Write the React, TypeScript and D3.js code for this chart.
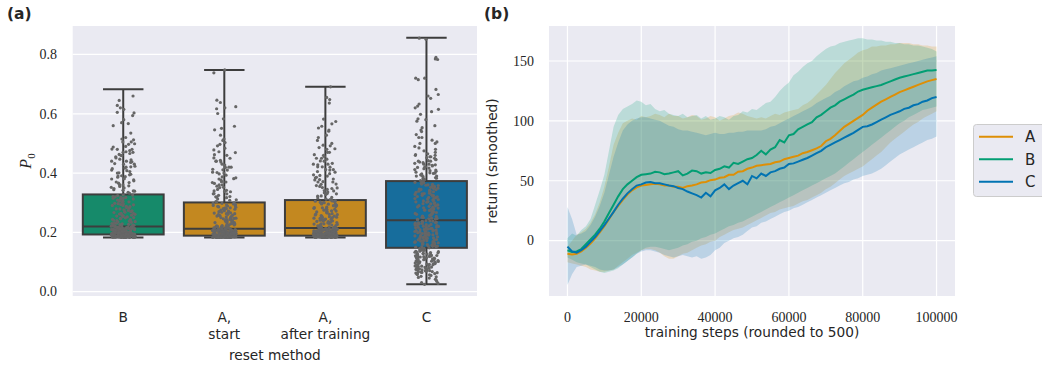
import * as d3 from "d3";

// ---------- panel (a): P0 by reset method ----------
const categories = ["B", "A_start", "A_after", "C"];
const tickLines = [["B"], ["A,", "start"], ["A,", "after training"], ["C"]];
const boxColors = ["#168a6a", "#c38820", "#c38820", "#176d9c"];

const boxMin = [0.183, 0.183, 0.183, 0.025];
const boxQ1 = [0.193, 0.189, 0.189, 0.148];
const boxMed = [0.22, 0.212, 0.215, 0.241];
const boxQ3 = [0.328, 0.301, 0.309, 0.373];
const boxMax = [0.683, 0.748, 0.691, 0.856];

const pointsB = [
  0.183, 0.184, 0.183, 0.185, 0.186, 0.184, 0.187, 0.188, 0.183, 0.189, 0.19, 0.185, 0.186, 0.191, 0.192, 0.184,
  0.187, 0.193, 0.188, 0.183, 0.19, 0.186, 0.189, 0.192, 0.185, 0.184, 0.191, 0.187, 0.183, 0.188, 0.19, 0.186,
  0.193, 0.185, 0.189, 0.184, 0.192, 0.187, 0.191, 0.183,
  0.194, 0.196, 0.199, 0.201, 0.203, 0.195, 0.198, 0.205, 0.207, 0.209, 0.211, 0.197, 0.2, 0.213, 0.215, 0.202,
  0.217, 0.204, 0.219, 0.206, 0.194, 0.208, 0.21, 0.212, 0.199, 0.214, 0.216, 0.196, 0.218, 0.203, 0.201, 0.22,
  0.197, 0.205, 0.211, 0.207, 0.215, 0.2, 0.209, 0.213,
  0.222, 0.228, 0.235, 0.241, 0.247, 0.253, 0.226, 0.259, 0.264, 0.27, 0.232, 0.276, 0.281, 0.287, 0.238, 0.293,
  0.298, 0.244, 0.304, 0.309, 0.25, 0.315, 0.32, 0.256, 0.326, 0.262, 0.268, 0.274, 0.224, 0.279, 0.285, 0.291,
  0.23, 0.296, 0.302, 0.307, 0.313, 0.318, 0.236, 0.324,
  0.332, 0.339, 0.344, 0.352, 0.357, 0.366, 0.37, 0.377, 0.386, 0.391, 0.396, 0.405, 0.41, 0.417, 0.421, 0.432,
  0.436, 0.445, 0.451, 0.459, 0.466, 0.476, 0.48, 0.488, 0.497, 0.505, 0.512, 0.52, 0.505, 0.47, 0.44, 0.56,
  0.567, 0.58, 0.594, 0.603, 0.615, 0.628, 0.645, 0.66,
  0.1835, 0.1845, 0.1855, 0.1865, 0.1875, 0.1885, 0.1895, 0.1905, 0.1915, 0.1925, 0.195, 0.197, 0.199, 0.201,
  0.203, 0.205, 0.207, 0.209, 0.211, 0.213, 0.215, 0.217, 0.219, 0.221, 0.223, 0.225, 0.227, 0.229, 0.184, 0.186,
  0.188, 0.19, 0.192, 0.194, 0.196, 0.198, 0.2, 0.202, 0.204, 0.206, 0.208, 0.21, 0.212, 0.214, 0.216, 0.218,
  0.22, 0.185, 0.187, 0.189,
  0.231, 0.237, 0.243, 0.249, 0.255, 0.261, 0.267, 0.273, 0.279, 0.285, 0.291, 0.297, 0.303, 0.309, 0.315, 0.321,
  0.327, 0.234, 0.246, 0.258, 0.27, 0.282, 0.294, 0.306, 0.318, 0.24, 0.264, 0.288, 0.312, 0.252,
  0.335, 0.342, 0.348, 0.355, 0.361, 0.368, 0.374, 0.381, 0.388, 0.394, 0.401, 0.408, 0.415, 0.423, 0.43, 0.438,
  0.447, 0.455, 0.463, 0.472, 0.481, 0.49, 0.499, 0.34, 0.36, 0.38, 0.4, 0.42, 0.44, 0.46, 0.48, 0.35, 0.39, 0.43,
  0.47, 0.515, 0.535, 0.57, 0.605, 0.62,
];

const pointsAStart = [
  0.183, 0.184, 0.185, 0.183, 0.186, 0.187, 0.184, 0.188, 0.185, 0.183, 0.186, 0.189, 0.184, 0.187, 0.185, 0.188,
  0.183, 0.186, 0.184, 0.187, 0.189, 0.185, 0.183, 0.188, 0.186, 0.184, 0.187, 0.185, 0.183, 0.189, 0.186, 0.184,
  0.188, 0.185, 0.187, 0.183, 0.186, 0.184, 0.188, 0.185,
  0.19, 0.192, 0.194, 0.196, 0.198, 0.2, 0.191, 0.202, 0.204, 0.193, 0.206, 0.208, 0.195, 0.21, 0.197, 0.199,
  0.211, 0.201, 0.203, 0.205, 0.19, 0.207, 0.209, 0.192, 0.194, 0.212, 0.196, 0.198, 0.2, 0.202, 0.191, 0.204,
  0.206, 0.193, 0.208, 0.21, 0.195, 0.197, 0.199, 0.201,
  0.214, 0.219, 0.224, 0.229, 0.235, 0.241, 0.217, 0.246, 0.252, 0.222, 0.258, 0.263, 0.227, 0.269, 0.232, 0.275,
  0.238, 0.28, 0.286, 0.244, 0.291, 0.25, 0.296, 0.255, 0.3, 0.261, 0.266, 0.215, 0.272, 0.278, 0.221, 0.283,
  0.289, 0.226, 0.294, 0.233, 0.298, 0.239, 0.247, 0.257,
  0.304, 0.31, 0.317, 0.321, 0.33, 0.337, 0.342, 0.351, 0.356, 0.365, 0.371, 0.381, 0.387, 0.397, 0.403, 0.413,
  0.419, 0.427, 0.437, 0.443, 0.451, 0.462, 0.469, 0.478, 0.492, 0.503, 0.515, 0.528, 0.546, 0.551, 0.558, 0.583,
  0.601, 0.617, 0.624, 0.638, 0.646, 0.62, 0.738, 0.748,
  0.1832, 0.1838, 0.1845, 0.1852, 0.1858, 0.1865, 0.1872, 0.1878, 0.1885, 0.1892, 0.1898, 0.191, 0.193, 0.195,
  0.197, 0.199, 0.201, 0.203, 0.205, 0.207, 0.209, 0.211, 0.213, 0.215, 0.184, 0.186, 0.188, 0.19, 0.192, 0.194,
  0.196, 0.198, 0.2, 0.202, 0.204, 0.206, 0.208, 0.21, 0.212, 0.183, 0.185, 0.187, 0.189, 0.191, 0.193, 0.195,
  0.197, 0.199, 0.201, 0.203, 0.205, 0.207, 0.209, 0.211, 0.213,
  0.218, 0.223, 0.228, 0.233, 0.238, 0.243, 0.248, 0.253, 0.258, 0.263, 0.268, 0.273, 0.278, 0.283, 0.288, 0.293,
  0.298, 0.22, 0.23, 0.24, 0.25, 0.26, 0.27, 0.28, 0.29, 0.225, 0.245, 0.265, 0.285, 0.235,
  0.303, 0.308, 0.313, 0.319, 0.325, 0.331, 0.338, 0.345, 0.352, 0.36, 0.368, 0.376, 0.384, 0.393, 0.402, 0.411,
  0.42, 0.43, 0.44, 0.45, 0.46, 0.472, 0.484, 0.497, 0.51, 0.32, 0.34, 0.36, 0.38, 0.4, 0.42, 0.44, 0.33, 0.37,
  0.41,
];

const pointsAAfter = [
  0.184, 0.183, 0.186, 0.185, 0.183, 0.187, 0.188, 0.184, 0.186, 0.183, 0.185, 0.189, 0.187, 0.184, 0.188, 0.186,
  0.183, 0.185, 0.187, 0.184, 0.189, 0.186, 0.183, 0.188, 0.185, 0.184, 0.187, 0.183, 0.186, 0.189, 0.185, 0.188,
  0.184, 0.187, 0.183, 0.186, 0.185, 0.188, 0.184, 0.187,
  0.19, 0.193, 0.195, 0.197, 0.199, 0.201, 0.191, 0.203, 0.205, 0.194, 0.207, 0.209, 0.196, 0.211, 0.198, 0.2,
  0.213, 0.202, 0.204, 0.206, 0.191, 0.208, 0.21, 0.192, 0.195, 0.214, 0.197, 0.199, 0.201, 0.203, 0.19, 0.205,
  0.207, 0.194, 0.209, 0.212, 0.196, 0.198, 0.2, 0.215,
  0.217, 0.222, 0.228, 0.233, 0.239, 0.245, 0.219, 0.251, 0.257, 0.225, 0.263, 0.269, 0.23, 0.275, 0.236, 0.281,
  0.242, 0.287, 0.293, 0.248, 0.298, 0.254, 0.303, 0.26, 0.307, 0.266, 0.272, 0.218, 0.278, 0.284, 0.224, 0.29,
  0.296, 0.229, 0.301, 0.237, 0.305, 0.243, 0.25, 0.261,
  0.312, 0.318, 0.323, 0.331, 0.336, 0.345, 0.351, 0.358, 0.362, 0.371, 0.377, 0.384, 0.392, 0.398, 0.405, 0.412,
  0.421, 0.428, 0.433, 0.441, 0.447, 0.456, 0.462, 0.47, 0.48, 0.486, 0.492, 0.5, 0.51, 0.528, 0.541, 0.552,
  0.558, 0.566, 0.574, 0.582, 0.636, 0.648, 0.655, 0.691,
  0.1834, 0.1841, 0.1847, 0.1853, 0.1861, 0.1867, 0.1874, 0.1881, 0.1887, 0.1893, 0.1899, 0.192, 0.194, 0.196,
  0.198, 0.2, 0.202, 0.204, 0.206, 0.208, 0.21, 0.212, 0.214, 0.185, 0.187, 0.189, 0.191, 0.193, 0.195, 0.197,
  0.199, 0.201, 0.203, 0.205, 0.207, 0.209, 0.211, 0.213, 0.215, 0.184, 0.186, 0.188, 0.19, 0.192, 0.194, 0.196,
  0.198, 0.2, 0.202, 0.204, 0.206, 0.208, 0.21, 0.212, 0.183,
  0.216, 0.221, 0.227, 0.232, 0.238, 0.244, 0.25, 0.255, 0.261, 0.267, 0.273, 0.279, 0.285, 0.291, 0.296, 0.302,
  0.308, 0.223, 0.235, 0.247, 0.259, 0.271, 0.283, 0.295, 0.306, 0.229, 0.253, 0.277, 0.3, 0.241,
  0.311, 0.316, 0.322, 0.328, 0.334, 0.341, 0.348, 0.355, 0.363, 0.37, 0.378, 0.386, 0.394, 0.403, 0.412, 0.421,
  0.43, 0.44, 0.45, 0.46, 0.47, 0.482, 0.494, 0.52, 0.545, 0.33, 0.35, 0.37, 0.39, 0.41, 0.43, 0.45, 0.34, 0.38,
  0.42,
];

const pointsC = [
  0.025, 0.031, 0.04, 0.046, 0.05, 0.055, 0.058, 0.061, 0.063, 0.066, 0.068, 0.071, 0.072, 0.075, 0.077, 0.08,
  0.082, 0.085, 0.087, 0.09, 0.092, 0.094, 0.096, 0.098, 0.1, 0.102, 0.104, 0.106, 0.108, 0.11, 0.112, 0.114,
  0.116, 0.118, 0.12, 0.122, 0.124, 0.126, 0.128, 0.13, 0.132, 0.134, 0.136, 0.138, 0.14, 0.142, 0.144, 0.146,
  0.148, 0.065, 0.073, 0.079, 0.088, 0.095, 0.103, 0.111, 0.119, 0.127, 0.135, 0.143,
  0.15, 0.152, 0.154, 0.156, 0.158, 0.16, 0.162, 0.164, 0.166, 0.168, 0.17, 0.172, 0.174, 0.176, 0.178, 0.18,
  0.182, 0.184, 0.186, 0.188, 0.19, 0.192, 0.194, 0.196, 0.198, 0.2, 0.202, 0.204, 0.206, 0.208, 0.21, 0.212,
  0.214, 0.216, 0.218, 0.22, 0.222, 0.224, 0.226, 0.228, 0.23, 0.232, 0.234, 0.236, 0.238, 0.24, 0.155, 0.163,
  0.171, 0.179, 0.187, 0.195, 0.203, 0.211, 0.219, 0.227,
  0.243, 0.246, 0.25, 0.253, 0.257, 0.26, 0.264, 0.267, 0.271, 0.274, 0.278, 0.281, 0.285, 0.288, 0.292, 0.295,
  0.299, 0.302, 0.306, 0.309, 0.313, 0.316, 0.32, 0.323, 0.327, 0.33, 0.334, 0.337, 0.341, 0.344, 0.348, 0.351,
  0.355, 0.358, 0.362, 0.365, 0.369, 0.372, 0.248, 0.255, 0.262, 0.269, 0.276, 0.283, 0.29, 0.297, 0.304, 0.311,
  0.318, 0.325, 0.332, 0.339, 0.346, 0.353, 0.36, 0.367, 0.371, 0.245,
  0.376, 0.381, 0.385, 0.39, 0.394, 0.399, 0.403, 0.408, 0.412, 0.417, 0.421, 0.426, 0.43, 0.435, 0.44, 0.445,
  0.45, 0.455, 0.46, 0.378, 0.388, 0.397, 0.406, 0.415, 0.424, 0.433, 0.442, 0.452, 0.462, 0.47, 0.48, 0.49,
  0.5, 0.505, 0.511, 0.52, 0.53, 0.545, 0.553, 0.56, 0.575, 0.583, 0.598, 0.607, 0.615, 0.626, 0.633, 0.652,
  0.665, 0.682, 0.715, 0.72, 0.783, 0.79, 0.855, 0.851,
  0.028, 0.035, 0.042, 0.048, 0.052, 0.057, 0.06, 0.062, 0.064, 0.067, 0.069, 0.071, 0.074, 0.076, 0.078, 0.081,
  0.083, 0.086, 0.089, 0.091, 0.093, 0.097, 0.099, 0.101, 0.105, 0.107, 0.109, 0.113, 0.115, 0.117, 0.121, 0.123,
  0.125, 0.129, 0.131, 0.133, 0.137, 0.139, 0.141, 0.145,
  0.151, 0.153, 0.157, 0.159, 0.161, 0.165, 0.167, 0.169, 0.173, 0.175, 0.177, 0.181, 0.183, 0.185, 0.189, 0.191,
  0.193, 0.197, 0.199, 0.201, 0.205, 0.207, 0.209, 0.213, 0.215, 0.217, 0.221, 0.223, 0.225, 0.229, 0.231, 0.233,
  0.237, 0.239,
  0.244, 0.247, 0.251, 0.254, 0.258, 0.261, 0.265, 0.268, 0.272, 0.275, 0.279, 0.282, 0.286, 0.289, 0.293, 0.296,
  0.3, 0.303, 0.307, 0.31, 0.314, 0.317, 0.321, 0.324, 0.328, 0.331, 0.335, 0.338, 0.342, 0.345, 0.349, 0.352,
  0.356, 0.359, 0.363, 0.366,
  0.375, 0.383, 0.392, 0.401, 0.41, 0.419, 0.428, 0.437, 0.446, 0.455, 0.465, 0.475, 0.485, 0.38, 0.4, 0.42, 0.44,
  0.46, 0.39, 0.43, 0.5, 0.52, 0.54, 0.58, 0.62, 0.66, 0.72, 0.785,
];
const stripPoints = [pointsB, pointsAStart, pointsAAfter, pointsC];
const yTicksA = [0, 0.2, 0.4, 0.6, 0.8];

// ---------- panel (b): return curves ----------
const steps = [
  0, 1250, 2500, 3750, 5000, 6250, 7500, 8750, 10000, 11250, 12500, 13750, 15000, 16250, 17500, 18750, 20000,
  21250, 22500, 23750, 25000, 26250, 27500, 28750, 30000, 31250, 32500, 33750, 35000, 36250, 37500, 38750, 40000,
  41250, 42500, 43750, 45000, 46250, 47500, 48750, 50000, 51250, 52500, 53750, 55000, 56250, 57500, 58750, 60000,
  61250, 62500, 63750, 65000, 66250, 67500, 68750, 70000, 71250, 72500, 73750, 75000, 76250, 77500, 78750, 80000,
  81250, 82500, 83750, 85000, 86250, 87500, 88750, 90000, 91250, 92500, 93750, 95000, 96250, 97500, 98750, 100000,
];
const meanA = [
  -11, -11.5, -11, -9, -6, -2.5, 2, 7, 12, 18, 24, 29, 34, 38.5, 42, 44.5, 46, 46.5, 47, 47.5, 47, 46, 46, 45, 45,
  44, 45.5, 46, 47, 48.5, 49, 50.5, 51, 52.5, 53, 55, 55, 57.5, 58, 60, 61, 62.5, 63, 63.5, 64, 65.5, 66, 68, 69,
  70, 71, 73, 74, 75.5, 77, 79, 83, 85, 88, 91.5, 95, 97.5, 100, 102.5, 105, 108.5, 111, 113.5, 116, 118, 120, 122,
  124, 125.5, 127, 128.5, 130, 131.5, 133, 134, 135,
];
const meanB = [
  -8, -9.5, -9, -7, -3, 1, 5, 10, 16, 23, 30, 37, 43, 47, 50, 53, 55, 55.5, 56, 57.5, 57, 55.5, 56, 57, 58, 54.5,
  56, 58.5, 58, 56, 57, 56.5, 59, 60, 62, 61, 65, 64, 66, 68, 69, 71.5, 75, 72, 76, 78, 84, 82, 88, 89, 93, 95, 97,
  99, 103, 105, 108, 111, 113, 116, 118, 120, 122, 124.5, 126, 127, 128, 129, 130, 131.5, 133, 134.5, 136, 137, 138,
  139, 140, 141, 142, 142, 142.5,
];
const meanC = [
  -5, -9, -10, -8, -5, -1, 3, 8, 13, 18.5, 24, 30, 35, 39.5, 43, 46, 47, 48.5, 49, 48, 48, 47, 46, 45.5, 44, 43, 41,
  39.5, 38, 36, 40, 37, 42, 44, 47, 43, 46, 48, 50, 47, 54, 52, 56, 54, 57, 58, 60, 61, 64, 64.5, 66, 67.5, 69, 71,
  73, 75, 78, 80, 82, 84, 86, 88, 90, 92.5, 95, 95.5, 97, 99, 101, 103, 105, 106.5, 108, 110, 111, 113, 114, 116,
  117, 119, 120,
];
const upperA = [
  -5, 0, 5, 7, 10, 15, 22, 32, 45, 62, 80, 90, 98, 100, 102, 101, 104, 103, 104, 106, 105, 103, 106, 104, 104, 102,
  103, 105, 104, 101, 102, 104, 103, 100, 102, 104, 105, 107, 106, 104, 103, 102, 103, 102, 104, 106, 105, 107, 108,
  109, 110, 113, 115, 118, 122, 126, 130, 135, 140, 144, 148, 151, 154, 157, 159, 160, 162, 162, 163, 163, 164, 164,
  165, 165, 165, 164, 164, 163, 163, 162, 162,
];
const lowerA = [
  -18, -19, -20, -21, -22, -24, -25, -26, -26, -25, -24, -21, -18, -15, -12, -10, -8, -7, -7, -8, -10, -13, -15,
  -15, -13, -11, -10, -8, -6, -4, -3, -1, 0, 3, 5, 7, 9, 10, 11, 13, 15, 17, 19, 21, 23, 24, 26, 27, 28, 29, 31,
  33, 34, 36, 38, 40, 43, 45, 48, 51, 54, 56, 58, 60, 62, 65, 68, 71, 74, 78, 82, 85, 88, 91, 94, 97, 99, 102, 104,
  106, 108,
];
const upperB = [
  2, 6, 4, 9, 12, 18, 30, 42, 55, 75, 95, 105, 110, 112, 114, 117, 116, 113, 114, 110, 108, 109, 106, 105, 104, 106,
  103, 104, 105, 102, 104, 101, 102, 104, 103, 101, 104, 105, 108, 107, 110, 109, 112, 115, 116, 120, 125, 129, 132,
  138, 141, 145, 148, 150, 154, 157, 160, 162, 163, 165, 166, 167, 168, 169, 169, 168, 168, 167, 167, 166, 166, 165,
  165, 164, 164, 163, 163, 162, 161, 160, 158,
];
const lowerB = [
  -14, -16, -18, -19, -20, -22, -24, -26, -27, -26, -25, -23, -20, -17, -14, -11, -8, -6, -5, -5, -6, -7, -8, -7,
  -6, -4, -3, -1, 0, 2, 3, 5, 6, 8, 10, 12, 13, 15, 16, 18, 20, 22, 24, 26, 28, 30, 32, 34, 36, 38, 40, 42, 44, 46,
  48, 50, 52, 54, 56, 59, 62, 65, 68, 71, 74, 77, 80, 83, 86, 89, 92, 95, 98, 100, 103, 105, 107, 109, 110, 111, 112,
];
const upperC = [
  28, 18, 5, 6, 8, 13, 20, 29, 40, 55, 70, 82, 92, 97, 100, 102, 103, 103, 102, 101, 100, 98, 96, 95, 93, 92, 92, 91,
  90, 89, 88, 89, 90, 89, 89, 90, 90, 91, 91, 92, 92, 92, 92, 93, 95, 96, 98, 100, 102, 104, 106, 108, 110, 112,
  115, 117, 119, 121, 124, 126, 129, 131, 133, 134, 136, 137, 139, 140, 142, 143, 144, 145, 146, 147, 148, 149, 150,
  151, 152, 153, 154,
];
const lowerC = [
  -37, -28, -22, -21, -20, -21, -22, -24, -25, -25, -24, -22, -20, -17, -14, -11, -9, -8, -8, -9, -10, -12, -13,
  -14, -13, -12, -13, -14, -13, -15, -14, -12, -8, -6, -2, 0, 2, 3, 5, 8, 11, 12, 15, 16, 18, 20, 22, 24, 25, 27,
  28, 30, 32, 34, 36, 38, 40, 42, 44, 46, 48, 49, 51, 52, 54, 55, 56, 58, 60, 63, 66, 69, 72, 74, 76, 78, 80, 82,
  84, 85, 87,
];
const seriesNames = ["A", "B", "C"];
const seriesColors = ["#de8f05", "#029e73", "#0173b2"];
const seriesMean = [meanA, meanB, meanC];
const seriesUpper = [upperA, upperB, upperC];
const seriesLower = [lowerA, lowerB, lowerC];
const xTicksB = [0, 20000, 40000, 60000, 80000, 100000];
const yTicksB = [0, 50, 100, 150];

const BG = "#eaeaf2";
const INK = "#262626";
const SERIF = "'Liberation Serif', 'DejaVu Serif', serif";
const SANS = "'DejaVu Sans', sans-serif";
const FS = 13.7;

const A = { left: 72.7, right: 477, top: 26, bottom: 296 };
const B = { left: 549, right: 955, top: 26, bottom: 296 };

// layout-only jitter, stable across renders
function jitter(i: number, j: number) {
  const s = Math.sin((j + 1) * 12.9898 + i * 78.233) * 43758.5453;
  return s - Math.floor(s) - 0.5;
}

function PanelA() {
  const x = d3.scaleBand<string>().domain(categories).range([A.left, A.right]).padding(0);
  const y = d3.scaleLinear().domain([-0.0145, 0.896]).range([A.bottom, A.top]);
  const bw = x.bandwidth();
  const boxW = bw * 0.8;
  const edge = "#3d3d3d";

  return (
    <g>
      <rect x={A.left} y={A.top} width={A.right - A.left} height={A.bottom - A.top} fill={BG} />
      {yTicksA.map((t) => (
        <g key={t}>
          <line x1={A.left} x2={A.right} y1={y(t)} y2={y(t)} stroke="#fff" strokeWidth={1.2} />
          <text x={57} y={y(t)} dy="0.34em" textAnchor="end" fontFamily={SERIF} fontSize={14} fill={INK}>
            {t.toFixed(1)}
          </text>
        </g>
      ))}
      {categories.map((c, i) => {
        const cx = x(c)! + bw / 2;
        return (
          <g key={c}>
            <line x1={cx} x2={cx} y1={y(boxQ3[i])} y2={y(boxMax[i])} stroke={edge} strokeWidth={2} />
            <line x1={cx} x2={cx} y1={y(boxQ1[i])} y2={y(boxMin[i])} stroke={edge} strokeWidth={2} />
            <line x1={cx - boxW / 4} x2={cx + boxW / 4} y1={y(boxMax[i])} y2={y(boxMax[i])} stroke={edge} strokeWidth={2} />
            <line x1={cx - boxW / 4} x2={cx + boxW / 4} y1={y(boxMin[i])} y2={y(boxMin[i])} stroke={edge} strokeWidth={2} />
            <rect
              x={cx - boxW / 2}
              y={y(boxQ3[i])}
              width={boxW}
              height={y(boxQ1[i]) - y(boxQ3[i])}
              fill={boxColors[i]}
              stroke={edge}
              strokeWidth={2}
            />
            <line x1={cx - boxW / 2} x2={cx + boxW / 2} y1={y(boxMed[i])} y2={y(boxMed[i])} stroke={edge} strokeWidth={2} />
            {stripPoints[i].map((v, j) => (
              <circle key={j} cx={cx + jitter(i, j) * 24} cy={y(v)} r={1.6} fill="#666666" />
            ))}
            {tickLines[i].map((ln, k) => (
              <text key={k} x={cx} y={321.5 + k * 17.5} textAnchor="middle" fontFamily={SANS} fontSize={FS} fill={INK}>
                {ln}
              </text>
            ))}
          </g>
        );
      })}
      <text x={(A.left + A.right) / 2} y={359.5} textAnchor="middle" fontFamily={SANS} fontSize={FS} fill={INK}>
        reset method
      </text>
      <text
        transform={`translate(31,${(A.top + A.bottom) / 2}) rotate(-90)`}
        textAnchor="middle"
        fontFamily={SERIF}
        fontSize={16}
        fontStyle="italic"
        fill={INK}
      >
        P<tspan fontSize={11} fontStyle="normal" dy={4}>0</tspan>
      </text>
      <text x={7} y={19} fontFamily={SANS} fontWeight="bold" fontSize={15.5} fill={INK}>
        (a)
      </text>
    </g>
  );
}

function PanelB() {
  const x = d3.scaleLinear().domain([-5000, 105000]).range([B.left, B.right]);
  const y = d3.scaleLinear().domain([-46.2, 179.2]).range([B.bottom, B.top]);
  const idx = d3.range(steps.length);
  const area = (lo: number[], hi: number[]) =>
    d3
      .area<number>()
      .x((i) => x(steps[i]))
      .y0((i) => y(lo[i]))
      .y1((i) => y(hi[i]))(idx)!;
  const line = (m: number[]) =>
    d3
      .line<number>()
      .x((i) => x(steps[i]))
      .y((i) => y(m[i]))(idx)!;

  return (
    <g>
      <rect x={B.left} y={B.top} width={B.right - B.left} height={B.bottom - B.top} fill={BG} />
      {yTicksB.map((t) => (
        <g key={t}>
          <line x1={B.left} x2={B.right} y1={y(t)} y2={y(t)} stroke="#fff" strokeWidth={1.2} />
          <text x={534} y={y(t)} dy="0.34em" textAnchor="end" fontFamily={SERIF} fontSize={14} fill={INK}>
            {t}
          </text>
        </g>
      ))}
      {xTicksB.map((t) => (
        <g key={t}>
          <line x1={x(t)} x2={x(t)} y1={B.top} y2={B.bottom} stroke="#fff" strokeWidth={1.2} />
          <text x={x(t)} y={321.5} textAnchor="middle" fontFamily={SERIF} fontSize={14} fill={INK}>
            {t}
          </text>
        </g>
      ))}
      {seriesNames.map((n, i) => (
        <path key={n} d={area(seriesLower[i], seriesUpper[i])} fill={seriesColors[i]} fillOpacity={0.2} />
      ))}
      {seriesNames.map((n, i) => (
        <path key={n} d={line(seriesMean[i])} fill="none" stroke={seriesColors[i]} strokeWidth={2} />
      ))}
      <text x={(B.left + B.right) / 2} y={337} textAnchor="middle" fontFamily={SANS} fontSize={FS} fill={INK}>
        training steps (rounded to 500)
      </text>
      <text
        transform={`translate(497,${(B.top + B.bottom) / 2}) rotate(-90)`}
        textAnchor="middle"
        fontFamily={SANS}
        fontSize={FS}
        fill={INK}
      >
        return (smoothed)
      </text>
      <text x={484} y={19} fontFamily={SANS} fontWeight="bold" fontSize={15.5} fill={INK}>
        (b)
      </text>
      {/* legend */}
      <rect x={973.5} y={124.5} width={90} height={72} rx={3} fill={BG} stroke="#cccccc" />
      {seriesNames.map((n, i) => {
        const ly = 136.7 + i * 22.5;
        return (
          <g key={n}>
            <line x1={979} x2={1013} y1={ly} y2={ly} stroke={seriesColors[i]} strokeWidth={2} />
            <text x={1025} y={ly} dy="0.36em" fontFamily={SANS} fontSize={15} fill={INK}>
              {n}
            </text>
          </g>
        );
      })}
    </g>
  );
}

export default function App() {
  return (
    <svg width={1042} height={366} style={{ position: "absolute", left: 0, top: 0, background: "#fff" }}>
      <PanelA />
      <PanelB />
    </svg>
  );
}
